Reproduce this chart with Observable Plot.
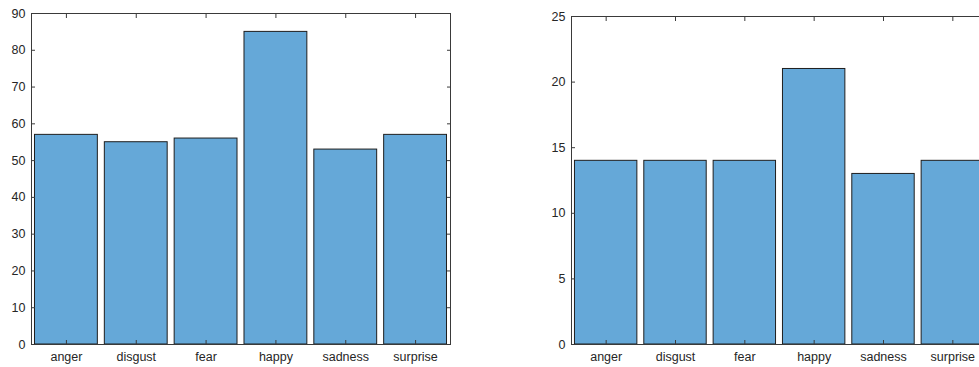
<!DOCTYPE html>
<html>
<head>
<meta charset="utf-8">
<script src="https://cdn.jsdelivr.net/npm/d3@7"></script>
<script src="https://cdn.jsdelivr.net/npm/@observablehq/plot@0.6"></script>
<style>
  html, body { margin: 0; padding: 0; background: #fff; overflow: hidden; }
  #wrap { position: relative; width: 979px; height: 367px; overflow: hidden; }
  #left { position: absolute; left: 0; top: 0; width: 540px; }
  #right { position: absolute; left: 540px; top: 0; width: 460px; }
  svg { max-width: none !important; }
</style>
</head>
<body>
<div id="wrap"><div id="left"></div><div id="right"></div></div>
<script>
const categories = ["anger", "disgust", "fear", "happy", "sadness", "surprise"];
const leftValues = [57, 55, 56, 85, 53, 57];
const rightValues = [14, 14, 14, 21, 13, 14];
const leftTicks = [0, 10, 20, 30, 40, 50, 60, 70, 80, 90];
const rightTicks = [0, 5, 10, 15, 20, 25];

const axisColor = "#3a3a3a";
const textColor = "#262626";
const barFill = "#65a8d8";

function panel(values, yDomain, yTicks, opts) {
  const data = categories.map((c, i) => ({category: c, value: values[i]}));
  return Plot.plot({
    width: opts.width,
    height: 367,
    marginLeft: 31,
    marginRight: opts.marginRight,
    marginTop: opts.marginTop,
    marginBottom: 23,
    style: {fontFamily: "'Liberation Sans', Arial, Helvetica, sans-serif", fontSize: "12.5px", color: textColor, background: "transparent", maxWidth: "none"},
    x: {domain: categories, paddingInner: 0.1, paddingOuter: 0.05, label: null, round: false},
    y: {domain: yDomain, label: null},
    marks: [
      Plot.barY(data, {x: "category", y: "value", fill: barFill, stroke: "#1e1e1e", strokeWidth: 1}),
      Plot.axisY({anchor: "left", ticks: yTicks, tickSize: -4, tickPadding: 10, stroke: axisColor, fill: textColor, label: null}),
      Plot.axisY({anchor: "right", ticks: yTicks, tickSize: -4, tickFormat: () => "", stroke: axisColor, label: null}),
      Plot.axisX({anchor: "bottom", tickSize: -4, tickPadding: 12, stroke: axisColor, fill: textColor, label: null}),
      Plot.axisX({anchor: "top", tickSize: -4, tickFormat: () => "", stroke: axisColor, label: null}),
      Plot.frame({stroke: axisColor, strokeWidth: 1})
    ]
  });
}

document.getElementById("left").appendChild(
  panel(leftValues, [0, 90], leftTicks, {width: 540, marginRight: 90, marginTop: 13})
);
document.getElementById("right").appendChild(
  panel(rightValues, [0, 25], rightTicks, {width: 460, marginRight: 13, marginTop: 16})
);
</script>
</body>
</html>
